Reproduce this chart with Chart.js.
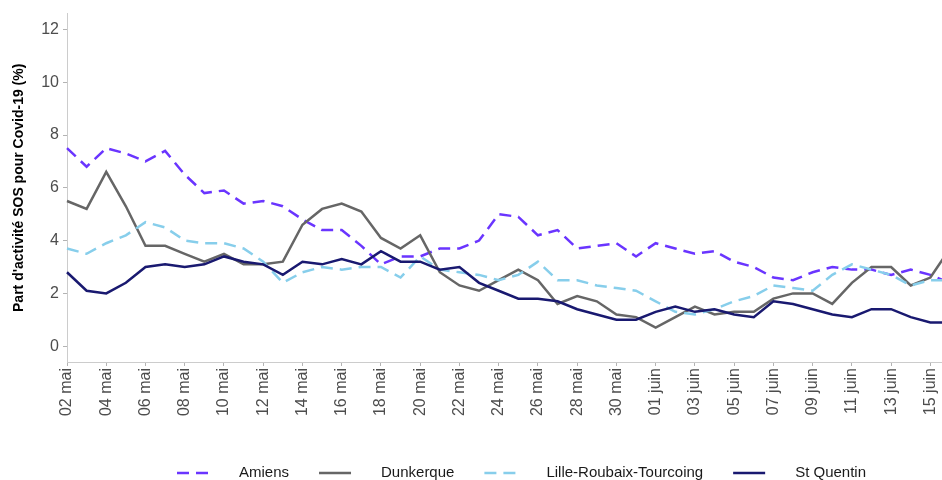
<!DOCTYPE html>
<html>
<head>
<meta charset="utf-8">
<script src="https://cdn.jsdelivr.net/npm/chart.js@4.4.1/dist/chart.umd.min.js"></script>
<style>
html, body { margin: 0; padding: 0; background: #fff; overflow: hidden; }
#cadre { position: relative; width: 950px; height: 480px; }
</style>
</head>
<body>
<div id="cadre"><canvas id="sos"></canvas></div>
<script>
// Dates (02 mai -> 16 juin)
const jours = [
    '02 mai', '03 mai', '04 mai', '05 mai', '06 mai', '07 mai', '08 mai', '09 mai', '10 mai', '11 mai',
    '12 mai', '13 mai', '14 mai', '15 mai', '16 mai', '17 mai', '18 mai', '19 mai', '20 mai', '21 mai',
    '22 mai', '23 mai', '24 mai', '25 mai', '26 mai', '27 mai', '28 mai', '29 mai', '30 mai', '31 mai',
    '01 juin', '02 juin', '03 juin', '04 juin', '05 juin', '06 juin', '07 juin', '08 juin', '09 juin', '10 juin',
    '11 juin', '12 juin', '13 juin', '14 juin', '15 juin', '16 juin'
];

// Part d'activité SOS pour Covid-19 (%)
const amiens = [
    7.5, 6.8, 7.5, 7.3, 7.0, 7.4, 6.5, 5.8, 5.9, 5.4,
    5.5, 5.3, 4.8, 4.4, 4.4, 3.8, 3.1, 3.4, 3.4, 3.7,
    3.7, 4.0, 5.0, 4.9, 4.2, 4.4, 3.7, 3.8, 3.9, 3.4,
    3.9, 3.7, 3.5, 3.6, 3.2, 3.0, 2.6, 2.5, 2.8, 3.0,
    2.9, 2.9, 2.7, 2.9, 2.7, 2.4
];
const dunkerque = [
    5.5, 5.2, 6.6, 5.3, 3.8, 3.8, 3.5, 3.2, 3.5, 3.1,
    3.1, 3.2, 4.6, 5.2, 5.4, 5.1, 4.1, 3.7, 4.2, 2.8,
    2.3, 2.1, 2.5, 2.9, 2.5, 1.6, 1.9, 1.7, 1.2, 1.1,
    0.7, 1.1, 1.5, 1.2, 1.3, 1.3, 1.8, 2.0, 2.0, 1.6,
    2.4, 3.0, 3.0, 2.3, 2.6, 3.7
];
const lille = [
    3.7, 3.5, 3.9, 4.2, 4.7, 4.5, 4.0, 3.9, 3.9, 3.7,
    3.2, 2.4, 2.8, 3.0, 2.9, 3.0, 3.0, 2.6, 3.4, 2.9,
    2.8, 2.7, 2.5, 2.7, 3.2, 2.5, 2.5, 2.3, 2.2, 2.1,
    1.7, 1.3, 1.2, 1.4, 1.7, 1.9, 2.3, 2.2, 2.1, 2.7,
    3.1, 2.9, 2.7, 2.3, 2.5, 2.5
];
const stQuentin = [
    2.8, 2.1, 2.0, 2.4, 3.0, 3.1, 3.0, 3.1, 3.4, 3.2,
    3.1, 2.7, 3.2, 3.1, 3.3, 3.1, 3.6, 3.2, 3.2, 2.9,
    3.0, 2.4, 2.1, 1.8, 1.8, 1.7, 1.4, 1.2, 1.0, 1.0,
    1.3, 1.5, 1.3, 1.4, 1.2, 1.1, 1.7, 1.6, 1.4, 1.2,
    1.1, 1.4, 1.4, 1.1, 0.9, 0.9
];
const yTicks = [0, 2, 4, 6, 8, 10, 12];

Chart.defaults.font.family = "'Liberation Sans', Arial, sans-serif";

// Légende façon ggplot, en bas
const legendeSOS = {
    id: 'legendeSOS',
    afterDraw(chart) {
        const ctx = chart.ctx;
        let x = 177;
        const y = 473;
        ctx.save();
        ctx.font = "15px 'Liberation Sans', Arial, sans-serif";
        ctx.textBaseline = 'middle';
        chart.data.datasets.forEach(function(ds){
            ctx.beginPath();
            ctx.setLineDash(ds.borderDash || []);
            ctx.strokeStyle = ds.borderColor;
            ctx.lineWidth = ds.borderWidth;
            ctx.moveTo(x, y);
            ctx.lineTo(x + 32, y);
            ctx.stroke();
            ctx.setLineDash([]);
            ctx.fillStyle = '#1a1a1a';
            ctx.fillText(ds.label, x + 62, y);
            x += 62 + ctx.measureText(ds.label).width + 30;
        });
        ctx.restore();
    }
};

function serie(label, data, couleur, tirets, ordre) {
    return {
        label: label,
        data: data,
        borderColor: couleur,
        backgroundColor: couleur,
        borderWidth: 2.5,
        borderDash: tirets,
        pointRadius: 0,
        tension: 0,
        order: ordre
    };
}

const config = {
    type: 'line',
    data: {
        labels: jours,
        datasets: [
            serie('Amiens', amiens, '#6a35ff', [12, 7], 4),
            serie('Dunkerque', dunkerque, '#666666', [], 3),
            serie('Lille-Roubaix-Tourcoing', lille, '#87ceeb', [12, 7], 2),
            serie('St Quentin', stQuentin, '#191970', [], 1)
        ]
    },
    options: {
        responsive: true,
        maintainAspectRatio: false,
        animation: false,
        layout: { padding: { top: 12, right: 0, bottom: 0, left: 0 } },
        plugins: {
            legend: { display: false },
            tooltip: { enabled: false }
        },
        scales: {
            x: {
                type: 'category',
                offset: false,
                afterFit: function(s){ s.height = 118; s.paddingLeft = 0; s.paddingRight = 0; },
                border: { color: '#cccccc', width: 1 },
                grid: { drawOnChartArea: false, drawTicks: true, tickLength: 4, color: '#b3b3b3' },
                ticks: {
                    autoSkip: false,
                    minRotation: 90,
                    maxRotation: 90,
                    padding: 2,
                    color: '#4d4d4d',
                    font: { size: 16 },
                    callback: function(val, i){ return i % 2 === 0 ? jours[i] : null; }
                }
            },
            y: {
                min: -0.6,
                max: 12.6,
                afterFit: function(s){ s.width = 67; },
                afterBuildTicks: function(s){ s.ticks = yTicks.map(v => ({ value: v })); },
                border: { color: '#cccccc', width: 1 },
                grid: { drawOnChartArea: false, drawTicks: true, tickLength: 4, color: '#b3b3b3' },
                ticks: { padding: 4, color: '#4d4d4d', font: { size: 16 } },
                title: {
                    display: true,
                    text: "Part d'activité SOS pour Covid-19 (%)",
                    color: '#000000',
                    font: { size: 14, weight: 'bold' },
                    padding: { top: 11, bottom: 0 }
                }
            }
        }
    },
    plugins: [legendeSOS]
};

const graphe = new Chart(document.getElementById('sos'), config);
</script>
</body>
</html>
